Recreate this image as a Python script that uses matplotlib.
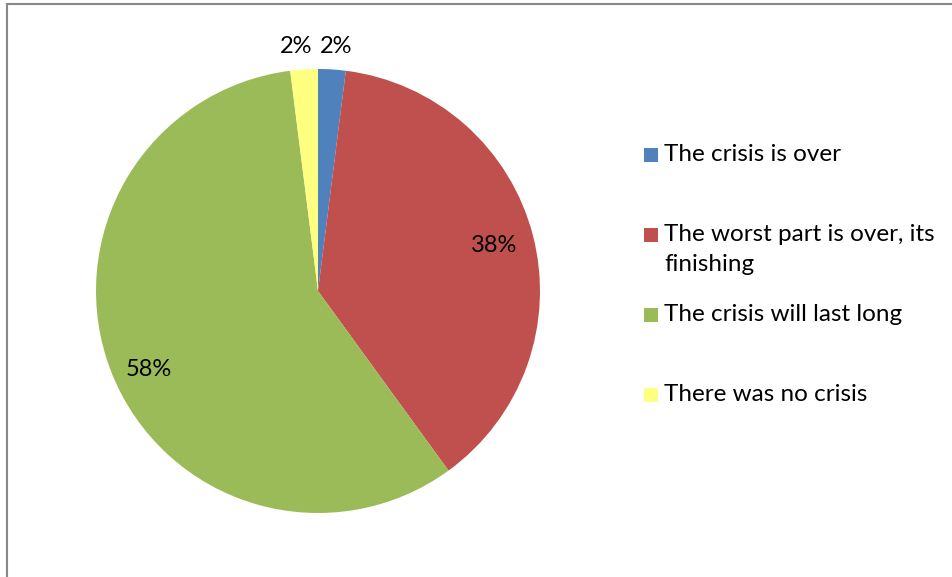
import matplotlib.pyplot as plt
from matplotlib.patches import Rectangle
from matplotlib.lines import Line2D

plt.rcParams['font.family'] = ['Lato', 'DejaVu Sans']

# Survey answers
answers = ["The crisis is over",
           "The worst part is over, its\nfinishing",
           "The crisis will last long",
           "There was no crisis"]
shares = [2, 38, 58, 2]
colors = ["#4F81BD", "#C0504D", "#9BBB59", "#FFFF80"]

W, H = 953, 577
fig = plt.figure(figsize=(W / 100, H / 100), dpi=100)

# chart frame: only the left and top edges fall inside the image
frame = dict(transform=fig.transFigure, color="#888888", linewidth=1.5)
fig.add_artist(Line2D([6.5 / W, 6.5 / W], [0, (H - 3.5) / H], **frame))
fig.add_artist(Line2D([6.5 / W, 1], [(H - 3.5) / H, (H - 3.5) / H], **frame))

# pie placed with radius ~222 px centred at (318, 291)
cx, cy, r = 318, 291, 222
ax = fig.add_axes([(cx - r) / W, (H - cy - r) / H, 2 * r / W, 2 * r / H])
wedges, texts, autotexts = ax.pie(
    shares, colors=colors, startangle=90, counterclock=False,
    autopct=lambda p: f"{p:.0f}%", pctdistance=0.82,
    wedgeprops=dict(linewidth=0),
    textprops=dict(fontsize=17, color="black"))
ax.set_xlim(-1, 1)
ax.set_ylim(-1, 1)
ax.set_aspect("equal")
for w in wedges:
    w.set_clip_on(False)

# the two thin slices get their labels outside, above the pie
autotexts[0].set_position((0.08, 1.1))
autotexts[3].set_position((-0.1, 1.1))
x58, y58 = autotexts[2].get_position()
autotexts[2].set_position((x58, y58 - 0.05))

# legend drawn entry by entry
for i, (lab, col) in enumerate(zip(answers, colors)):
    y = H - (155 + 80 * i)
    fig.add_artist(Rectangle((644 / W, (y - 7) / H), 14 / W, 14 / H,
                             transform=fig.transFigure, facecolor=col,
                             edgecolor="none"))
    fig.text(664 / W, (y + 11) / H, lab, fontsize=17.5, va="top",
             ha="left", linespacing=1.55)

fig.savefig("out.png", dpi=100)
